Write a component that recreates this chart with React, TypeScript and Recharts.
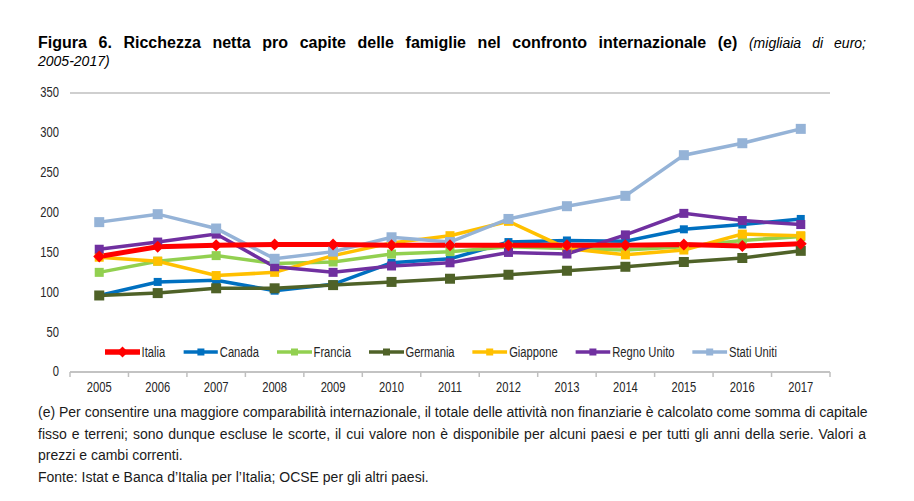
import React from "react";
import { CartesianGrid, Line, LineChart, XAxis, YAxis } from "recharts";

const years = ["2005", "2006", "2007", "2008", "2009", "2010", "2011", "2012", "2013", "2014", "2015", "2016", "2017"];
const italia = [145, 157, 159, 160, 160, 159, 159, 159, 159, 159, 160, 158, 161];
const canada = [96, 113, 115, 102, 110, 137, 142, 163, 165, 164, 179, 185, 192];
const francia = [125, 139, 146, 136, 138, 148, 151, 157, 155, 153, 157, 165, 170];
const germania = [96, 99, 105, 105, 109, 113, 117, 122, 127, 132, 138, 143, 152];
const giappone = [144, 139, 121, 125, 146, 162, 171, 189, 155, 147, 153, 173, 171];
const regnoUnito = [154, 163, 173, 132, 125, 133, 137, 150, 148, 172, 199, 190, 185];
const statiUniti = [188, 198, 180, 142, 151, 169, 163, 192, 208, 221, 272, 287, 305];
const yTicks = [0, 50, 100, 150, 200, 250, 300, 350];

const series = [
  { key: "canada", name: "Canada", color: "#0070C0", values: canada, marker: "square", size: 8 },
  { key: "francia", name: "Francia", color: "#92D050", values: francia, marker: "square", size: 9 },
  { key: "germania", name: "Germania", color: "#4F6228", values: germania, marker: "square", size: 10 },
  { key: "giappone", name: "Giappone", color: "#FFC000", values: giappone, marker: "square", size: 9 },
  { key: "regnoUnito", name: "Regno Unito", color: "#7030A0", values: regnoUnito, marker: "square", size: 9 },
  { key: "statiUniti", name: "Stati Uniti", color: "#95B3D7", values: statiUniti, marker: "square", size: 10 },
  { key: "italia", name: "Italia", color: "#FF0000", values: italia, marker: "diamond", size: 12 },
];
const legendOrder = ["italia", "canada", "francia", "germania", "giappone", "regnoUnito", "statiUniti"];

const data = years.map((year, i) => {
  const row: Record<string, string | number> = { year };
  series.forEach((s) => {
    row[s.key] = s.values[i];
  });
  return row;
});

const PLOT_LEFT = 70;
const PLOT_RIGHT = 830;
const PLOT_BOTTOM = 372;
const STEP = (PLOT_RIGHT - PLOT_LEFT) / years.length;
const SANS = "'Liberation Sans', Arial, sans-serif";
// no narrow face installed: squeeze Liberation Sans horizontally instead
const SQUEEZE = 0.8;
const GRID = "#BFBFBF";
const TEXT = "#262626";

function makeDot(color: string, marker: string, size: number) {
  return (props: any) => {
    const { cx, cy, index } = props;
    if (cx == null || cy == null) return null;
    const h = size / 2;
    if (marker === "diamond") {
      return (
        <polygon
          key={`d-${index}`}
          points={`${cx},${cy - h} ${cx + h},${cy} ${cx},${cy + h} ${cx - h},${cy}`}
          fill={color}
        />
      );
    }
    return <rect key={`d-${index}`} x={cx - h} y={cy - h} width={size} height={size} fill={color} />;
  };
}

function NarrowText({ x, y, anchor, children }: { x: number; y: number; anchor: string; children: any }) {
  return (
    <text
      transform={`translate(${x},${y}) scale(${SQUEEZE},1)`}
      textAnchor={anchor}
      fill={TEXT}
      fontSize={14}
      fontFamily={SANS}
      dominantBaseline="central"
    >
      {children}
    </text>
  );
}

function YearTick(props: any) {
  const { x, payload, index } = props;
  const last = index === years.length - 1;
  return (
    <g>
      <line x1={x - STEP / 2} y1={PLOT_BOTTOM} x2={x - STEP / 2} y2={PLOT_BOTTOM + 5} stroke={GRID} strokeWidth={1.5} />
      {last ? (
        <line x1={x + STEP / 2} y1={PLOT_BOTTOM} x2={x + STEP / 2} y2={PLOT_BOTTOM + 5} stroke={GRID} strokeWidth={1.5} />
      ) : null}
      <NarrowText x={x} y={PLOT_BOTTOM + 16} anchor="middle">
        {payload.value}
      </NarrowText>
    </g>
  );
}

function LeftTick(props: any) {
  const { x, y, payload } = props;
  return (
    <NarrowText x={x} y={y} anchor="end">
      {payload.value}
    </NarrowText>
  );
}

function RightTick(props: any) {
  const { x, y, payload } = props;
  return (
    <NarrowText x={x} y={y} anchor="start">
      {payload.value === 0 ? "-" : payload.value}
    </NarrowText>
  );
}

function LegendSwatch({ color, marker }: { color: string; marker: string }) {
  const w = 35 / SQUEEZE;
  const c = w / 2;
  return (
    <svg width={w} height={12} style={{ display: "block" }}>
      <line x1={0} y1={6} x2={w} y2={6} stroke={color} strokeWidth={marker === "diamond" ? 5.5 : 3.5} />
      {marker === "diamond" ? (
        <polygon
          points={`${c},0.5 ${c + 5.5 / SQUEEZE},6 ${c},11.5 ${c - 5.5 / SQUEEZE},6`}
          fill={color}
        />
      ) : (
        <rect x={c - 3.5 / SQUEEZE} y={2.5} width={7 / SQUEEZE} height={7} fill={color} />
      )}
    </svg>
  );
}

export default function App() {
  return (
    <div style={{ position: "relative", width: 914, height: 501, background: "#fff", overflow: "hidden" }}>
      <style>{`body{margin:0}`}</style>

      <div
        style={{
          position: "absolute",
          left: 38,
          top: 34,
          width: 828,
          fontFamily: SANS,
          fontSize: 16,
          lineHeight: "17px",
          color: "#000",
        }}
      >
        <div style={{ textAlign: "justify", textAlignLast: "justify", whiteSpace: "nowrap" }}>
          <b>Figura 6. Ricchezza netta pro capite delle famiglie nel confronto internazionale (e)</b>{" "}
          <i style={{ fontSize: 14 }}>(migliaia di euro;</i>
        </div>
        <div>
          <i style={{ fontSize: 14 }}>2005-2017)</i>
        </div>
      </div>

      <div style={{ position: "absolute", left: 0, top: 0 }}>
        <LineChart width={914} height={400} data={data} margin={{ top: 93, right: 44, bottom: 8, left: 30 }}>
          <CartesianGrid vertical={false} stroke={GRID} strokeWidth={1.5} />
          <XAxis
            dataKey="year"
            scale="point"
            padding={{ left: STEP / 2, right: STEP / 2 }}
            height={20}
            axisLine={{ stroke: GRID, strokeWidth: 1.5 }}
            tickLine={false}
            tick={<YearTick />}
            interval={0}
          />
          <YAxis
            yAxisId="left"
            domain={[0, 350]}
            ticks={yTicks}
            width={40}
            axisLine={false}
            tickLine={false}
            tickSize={0}
            tickMargin={11}
            tick={<LeftTick />}
          />
          <YAxis
            yAxisId="right"
            orientation="right"
            domain={[0, 350]}
            ticks={yTicks}
            width={40}
            axisLine={false}
            tickLine={false}
            tickSize={0}
            tickMargin={14}
            tick={<RightTick />}
          />
          {series.map((s) => (
            <Line
              key={s.key}
              yAxisId="left"
              dataKey={s.key}
              name={s.name}
              type="linear"
              stroke={s.color}
              strokeWidth={s.marker === "diamond" ? 5 : 3.5}
              dot={makeDot(s.color, s.marker, s.size)}
              activeDot={false}
              isAnimationActive={false}
            />
          ))}
        </LineChart>
      </div>

      <div
        style={{
          position: "absolute",
          left: 105,
          top: 344,
          width: 672 / SQUEEZE,
          transform: `scaleX(${SQUEEZE})`,
          transformOrigin: "0 0",
          display: "flex",
          justifyContent: "space-between",
          alignItems: "center",
          fontFamily: SANS,
          fontSize: 14,
          color: TEXT,
        }}
      >
        {legendOrder.map((k) => {
          const s = series.find((x) => x.key === k)!;
          return (
            <div key={k} style={{ display: "flex", alignItems: "center", gap: 2 }}>
              <LegendSwatch color={s.color} marker={s.marker} />
              <span>{s.name}</span>
            </div>
          );
        })}
      </div>

      <div
        style={{
          position: "absolute",
          left: 38,
          top: 402,
          width: 828,
          fontFamily: SANS,
          fontSize: 14,
          lineHeight: "21.5px",
          color: "#1a1a1a",
        }}
      >
        <div style={{ textAlign: "justify", textAlignLast: "justify", whiteSpace: "nowrap" }}>
          (e) Per consentire una maggiore comparabilità internazionale, il totale delle attività non finanziarie è calcolato come somma di capitale
        </div>
        <div style={{ textAlign: "justify", textAlignLast: "justify", whiteSpace: "nowrap" }}>
          fisso e terreni; sono dunque escluse le scorte, il cui valore non è disponibile per alcuni paesi e per tutti gli anni della serie. Valori a
        </div>
        <div>prezzi e cambi correnti.</div>
        <div>Fonte: Istat e Banca d’Italia per l’Italia; OCSE per gli altri paesi.</div>
      </div>
    </div>
  );
}
